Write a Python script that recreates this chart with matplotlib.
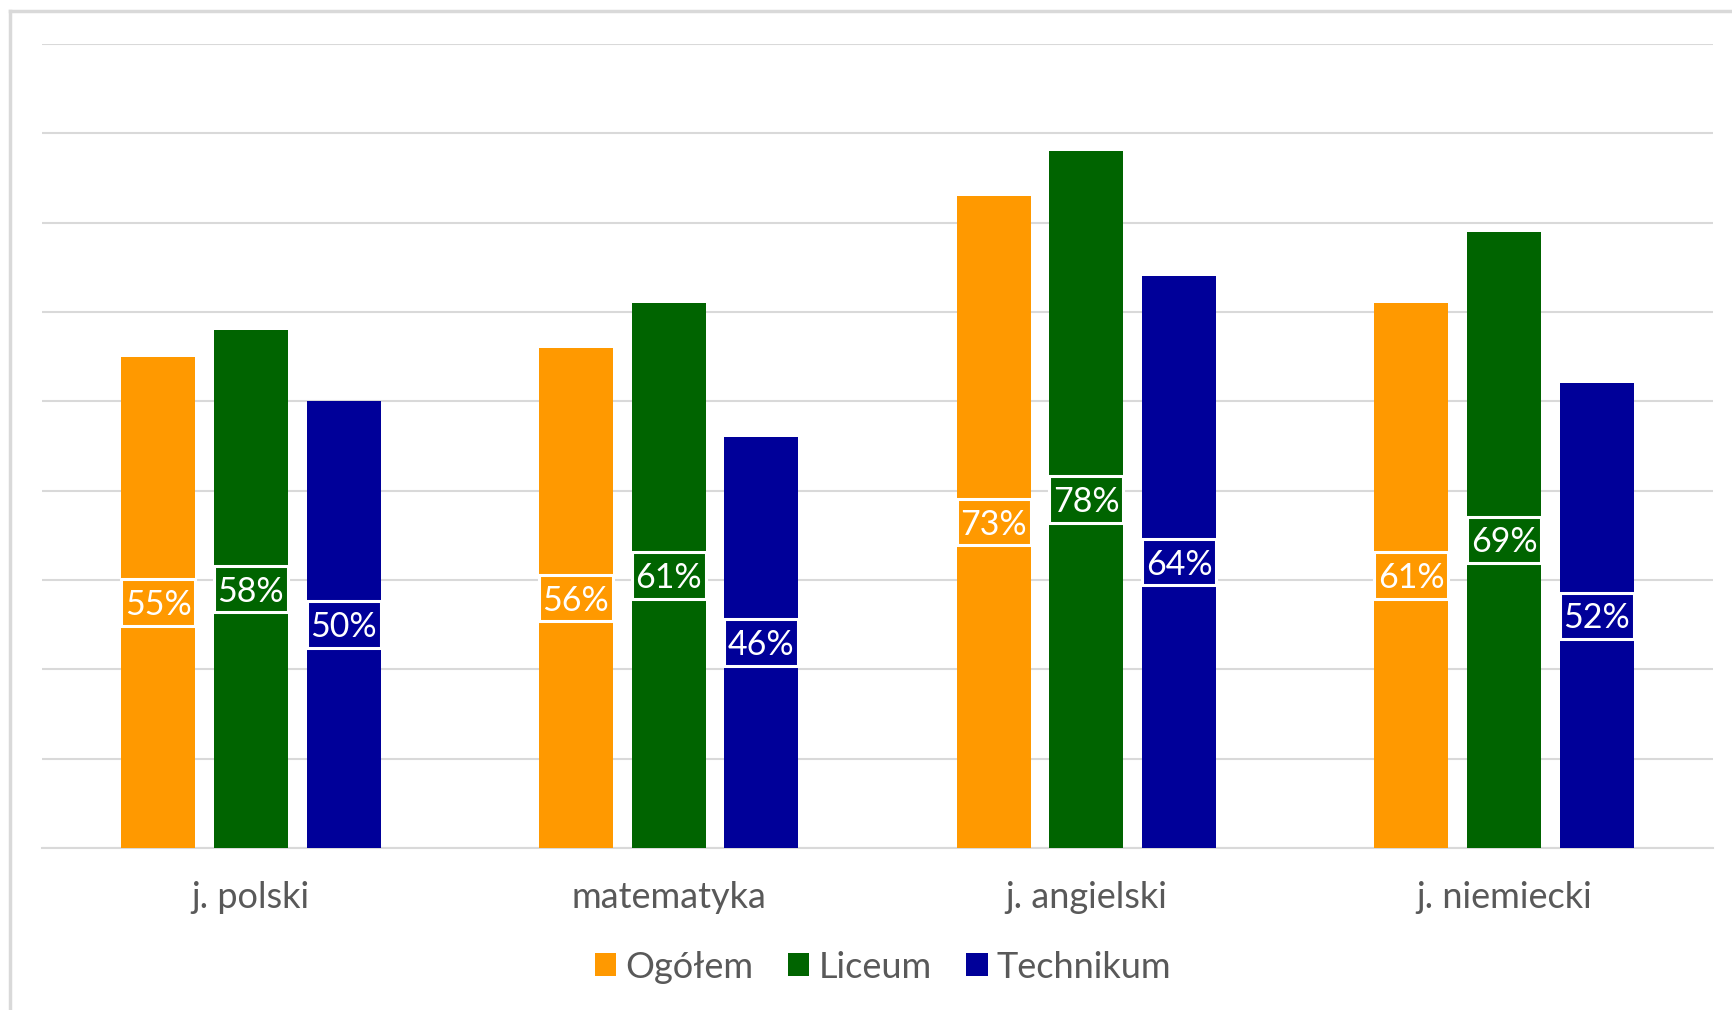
import numpy as np
import matplotlib
matplotlib.use('Agg')
import matplotlib.pyplot as plt
from matplotlib.patches import Rectangle
from matplotlib.lines import Line2D

plt.rcParams['font.family'] = ['Lato', 'DejaVu Sans']

## data
subjects = ['j. polski', 'matematyka', 'j. angielski', 'j. niemiecki']
series = ['Ogółem', 'Liceum', 'Technikum']
ogolem = [55, 56, 73, 61]
liceum = [58, 61, 78, 69]
technikum = [50, 46, 64, 52]
colors = ['#FF9900', '#006400', '#000099']

fig = plt.figure(figsize=(17.32, 10.10), dpi=100)
ax = fig.add_axes([42 / 1732, 1 - 848 / 1010, (1713 - 42) / 1732, (848 - 44) / 1010])

x = np.arange(len(subjects))
width = 0.177
pitch = 0.222
grid_col = '#D9D9D9'

for i, (vals, col) in enumerate(zip([ogolem, liceum, technikum], colors)):
    pos = x + (i - 1) * pitch
    ax.bar(pos, vals, width=width, color=col, zorder=3, label=series[i])
    for p, v in zip(pos, vals):
        # label box in the middle of the bar
        box_h = 5.2
        ax.add_patch(Rectangle((p - width / 2, v / 2 - box_h / 2), width, box_h,
                               facecolor=col, edgecolor='white', lw=2.2, zorder=4))
        ax.text(p, v / 2 - 0.3, f'{v}%', ha='center', va='center', color='white',
                fontsize=24.5, zorder=5)

ax.set_xlim(-0.5, len(subjects) - 0.5)
ax.set_ylim(0, 90)
ax.set_yticks(np.arange(0, 91, 10))
ax.yaxis.grid(True, color=grid_col, lw=1.5, zorder=0)
ax.set_axisbelow(True)
ax.tick_params(axis='y', left=False, labelleft=False)
ax.set_xticks(x)
ax.set_xticklabels(subjects, fontsize=26, color='#595959')
ax.tick_params(axis='x', length=0, pad=24)
for s in ['top', 'right', 'left']:
    ax.spines[s].set_visible(False)
ax.spines['bottom'].set_color(grid_col)
ax.spines['bottom'].set_linewidth(1.5)
ax.spines['bottom'].set_zorder(2)

handles = [Rectangle((0, 0), 1, 1, facecolor=c) for c in colors]
fig.legend(handles, series, loc='center', bbox_to_anchor=(883 / 1732, 1 - 967 / 1010),
           ncol=3, frameon=False, fontsize=26, handlelength=0.6, handleheight=0.6,
           handletextpad=0.25, columnspacing=0.95, labelcolor='#595959')

# outer frame (top and left edges visible)
fig.add_artist(Line2D([10 / 1732, 10 / 1732], [0, 1 - 11 / 1010], color=grid_col, lw=2.5,
                      transform=fig.transFigure))
fig.add_artist(Line2D([10 / 1732, 1], [1 - 11 / 1010, 1 - 11 / 1010], color=grid_col, lw=2.5,
                      transform=fig.transFigure))

fig.savefig('out.png', dpi=100, facecolor='white')
